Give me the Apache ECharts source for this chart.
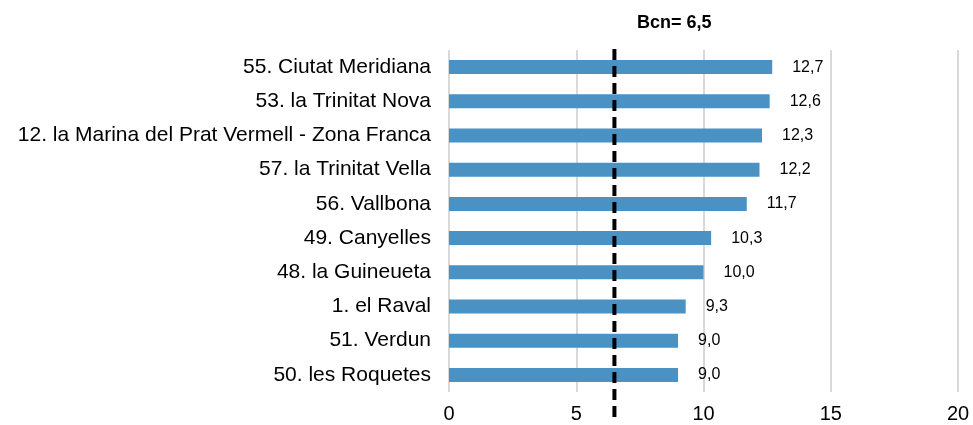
<!DOCTYPE html>
<html>
<head>
<meta charset="utf-8">
<script src="https://cdn.jsdelivr.net/npm/echarts@6/dist/echarts.min.js"></script>
<style>
  html, body { margin: 0; padding: 0; background: #fff; }
  #chart { width: 973px; height: 425px; }
</style>
</head>
<body>
<div id="chart"></div>
<script>
// barris amb valor més alt
var barris = [
  '55. Ciutat Meridiana',
  '53. la Trinitat Nova',
  '12. la Marina del Prat Vermell - Zona Franca',
  '57. la Trinitat Vella',
  '56. Vallbona',
  '49. Canyelles',
  '48. la Guineueta',
  '1. el Raval',
  '51. Verdun',
  '50. les Roquetes'
];
var valors = [12.7, 12.6, 12.3, 12.2, 11.7, 10.3, 10.0, 9.3, 9.0, 9.0];
var bcn = 6.5;
var xTicks = [0, 5, 10, 15, 20];

var coma = function (v) { return v.toFixed(1).replace('.', ','); };

var chart = echarts.init(document.getElementById('chart'));
var option = {
  animation: false,
  textStyle: { fontFamily: 'Liberation Sans, Arial, sans-serif' },
  title: {
    text: 'Bcn= ' + String(bcn).replace('.', ','),
    left: 632, top: 9,
    textStyle: { fontSize: 18, fontWeight: 'bold', color: '#000' }
  },
  grid: [
    { left: 449, right: 15, top: 50, bottom: 33 },
    // segona graella només per a la línia de Barcelona (més llarga)
    { left: 449, right: 15, top: 43, bottom: 8 }
  ],
  xAxis: [
    {
      type: 'value', gridIndex: 0,
      min: xTicks[0], max: xTicks[xTicks.length - 1], interval: 5,
      axisLine: { show: false },
      axisTick: { show: false },
      splitLine: { show: true, lineStyle: { color: '#d9d9d9', width: 2 } },
      axisLabel: { fontSize: 20, color: '#000', margin: 12 }
    },
    {
      type: 'value', gridIndex: 1, min: 0, max: 20,
      show: false
    }
  ],
  yAxis: [
    {
      type: 'category', gridIndex: 0, data: barris, inverse: true,
      axisLine: { show: false },
      axisTick: { show: false },
      axisLabel: { fontSize: 21, color: '#000', margin: 18 }
    },
    {
      type: 'value', gridIndex: 1, min: 0, max: 1, show: false
    }
  ],
  series: [
    {
      type: 'bar',
      xAxisIndex: 0, yAxisIndex: 0,
      data: valors,
      barWidth: 14,
      itemStyle: { color: '#4a92c4' },
      label: {
        show: true, position: 'right', distance: 20,
        fontSize: 16, color: '#000',
        formatter: function (p) { return coma(p.value); }
      }
    },
    {
      type: 'line',
      xAxisIndex: 1, yAxisIndex: 1,
      data: [[bcn, 0], [bcn, 1]],
      symbol: 'none',
      lineStyle: { color: '#000', width: 4, type: [11, 6] },
      z: 5
    }
  ]
};
chart.setOption(option);
</script>
</body>
</html>
